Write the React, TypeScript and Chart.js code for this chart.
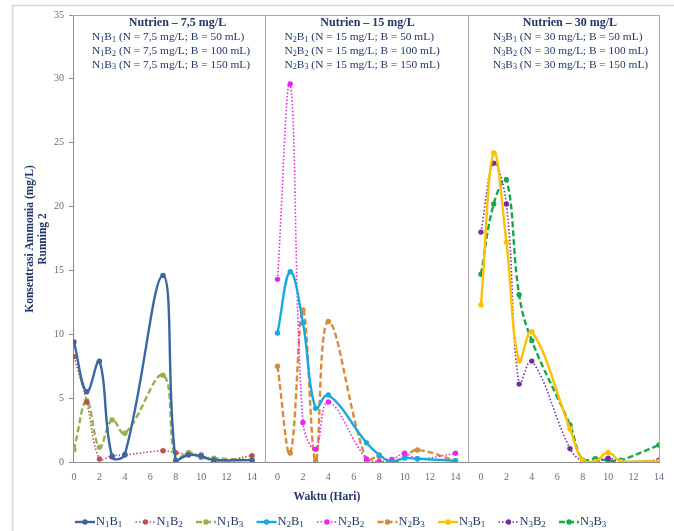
import React, { useEffect, useRef } from 'react';
import { Chart, registerables } from 'chart.js';

Chart.register(...registerables);

// ---------- data ----------
const days = [0, 1, 2, 3, 4, 7, 8, 9, 10, 11, 14];
const panelOffsets = [0, 16, 32];
const tickLocal = [0, 2, 4, 6, 8, 10, 12, 14];
const yTicks = [0, 5, 10, 15, 20, 25, 30, 35];

const n1b1 = [9.4, 5.5, 7.9, 0.4, 0.6, 14.6, 0.1, 0.55, 0.45, 0.16, 0.15];
const n1b2 = [8.25, 4.7, 0.23, 0.47, 0.55, 0.88, 0.73, 0.6, 0.55, 0.02, 0.5];
const n1b3 = [0.95, 4.8, 1.15, 3.3, 2.25, 6.8, 0.12, 0.75, 0.35, 0.29, 0.15];
const n2b1 = [10.1, 14.9, 10.9, 4.2, 5.25, 1.5, 0.55, 0.0, 0.3, 0.25, 0.1];
const n2b2 = [14.3, 29.6, 3.1, 1.0, 4.7, 0.23, 0.05, 0.2, 0.68, 0.25, 0.68];
const n2b3 = [7.5, 0.7, 11.9, 0.1, 11.0, 0.1, 0.45, 0.05, 0.43, 0.94, 0.1];
const n3b1 = [12.3, 24.2, 17.2, 7.9, 10.2, 2.6, 0.1, 0.05, 0.75, 0.05, 0.05];
const n3b2 = [18.0, 23.4, 20.2, 6.1, 7.9, 1.05, 0.05, 0.0, 0.3, 0.05, 0.15];
const n3b3 = [14.7, 20.2, 22.1, 13.1, 9.5, 2.9, 0.15, 0.25, 0.12, 0.15, 1.33];

const seriesLabels = ['N₁B₁', 'N₁B₂', 'N₁B₃', 'N₂B₁', 'N₂B₂', 'N₂B₃', 'N₃B₁', 'N₃B₂', 'N₃B₃'];
const seriesValues = [n1b1, n1b2, n1b3, n2b1, n2b2, n2b3, n3b1, n3b2, n3b3];
const seriesPanel = [0, 0, 0, 1, 1, 1, 2, 2, 2];
const seriesColors = ['#3A66A7', '#C0504D', '#93B34D', '#1AA8E0', '#EE22EE', '#D98A3C', '#FFC000', '#7030A0', '#17A74C'];
const seriesStyle = ['solid', 'dot', 'dash', 'solid', 'dot', 'dash', 'solid', 'dot', 'dash'];

const panelTitles = ['Nutrien – 7,5 mg/L', 'Nutrien – 15 mg/L', 'Nutrien – 30 mg/L'];
const panelLines = [
  ['N₁B₁ (N = 7,5 mg/L; B = 50 mL)', 'N₁B₂ (N = 7,5 mg/L; B = 100 mL)', 'N₁B₃ (N = 7,5 mg/L; B = 150 mL)'],
  ['N₂B₁ (N = 15 mg/L; B = 50 mL)', 'N₂B₂ (N = 15 mg/L; B = 100 mL)', 'N₂B₃ (N = 15 mg/L; B = 150 mL)'],
  ['N₃B₁ (N = 30 mg/L; B = 50 mL)', 'N₃B₂ (N = 30 mg/L; B = 100 mL)', 'N₃B₃ (N = 30 mg/L; B = 150 mL)'],
];
const yTitle = ['Konsentrasi Ammonia (mg/L)', 'Running 2'];
const xTitle = 'Waktu (Hari)';

// ---------- style ----------
const FONT = '"Liberation Serif", "Times New Roman", serif';
const TEXT = '#22366A';
const TICK = '#5F6B8C';
const AXIS = '#8C8C8C';
const DIV = '#A8A8A8';
const SUBS = '₀₁₂₃₄₅₆₇₈₉';

function dashFor(style: string): number[] {
  if (style === 'dash') return [6, 3];
  if (style === 'dot') return [1.5, 2];
  return [];
}
function widthFor(style: string): number {
  if (style === 'dot') return 1.6;
  return 2.4;
}

type Run = { t: string; sub: boolean };
function runsOf(text: string): Run[] {
  const runs: Run[] = [];
  for (const ch of text) {
    const idx = SUBS.indexOf(ch);
    const sub = idx >= 0;
    const c = sub ? String(idx) : ch;
    const last = runs[runs.length - 1];
    if (last && last.sub === sub) last.t += c;
    else runs.push({ t: c, sub });
  }
  return runs;
}
function fontStr(size: number, bold: boolean) {
  return `${bold ? 'bold ' : ''}${size}px ${FONT}`;
}
const SUBK = 0.72;
function richWidth(ctx: CanvasRenderingContext2D, text: string, size: number, bold: boolean) {
  let w = 0;
  for (const r of runsOf(text)) {
    ctx.font = fontStr(r.sub ? size * SUBK : size, bold);
    w += ctx.measureText(r.t).width;
  }
  return w;
}
function drawRich(
  ctx: CanvasRenderingContext2D,
  text: string,
  x: number,
  y: number,
  size: number,
  bold: boolean,
  color: string,
  align: 'left' | 'center' = 'left'
) {
  const total = richWidth(ctx, text, size, bold);
  let cx = align === 'center' ? x - total / 2 : x;
  ctx.save();
  ctx.fillStyle = color;
  ctx.textBaseline = 'middle';
  ctx.textAlign = 'left';
  for (const r of runsOf(text)) {
    const s = r.sub ? size * SUBK : size;
    ctx.font = fontStr(s, bold);
    ctx.fillText(r.t, cx, r.sub ? y + size * 0.2 : y);
    cx += ctx.measureText(r.t).width;
  }
  ctx.restore();
}

const decorPlugin = {
  id: 'decor',
  beforeDatasetsDraw(chart: any) {
    const { ctx, chartArea } = chart;
    const xs = chart.scales.x;
    ctx.save();
    // outer frame
    ctx.strokeStyle = '#D6D6D6';
    ctx.lineWidth = 1.5;
    ctx.strokeRect(12.5, 5.5, 720, 600);
    // plot box top/right
    ctx.strokeStyle = DIV;
    ctx.lineWidth = 1;
    ctx.beginPath();
    ctx.moveTo(chartArea.left, chartArea.top + 0.5);
    ctx.lineTo(chartArea.right + 0.5, chartArea.top + 0.5);
    ctx.lineTo(chartArea.right + 0.5, chartArea.bottom);
    ctx.stroke();
    // panel dividers
    for (let p = 1; p < panelOffsets.length; p++) {
      const gx = Math.round(xs.getPixelForValue(panelOffsets[p] - 1)) + 0.5;
      ctx.beginPath();
      ctx.moveTo(gx, chartArea.top);
      ctx.lineTo(gx, chartArea.bottom);
      ctx.stroke();
    }
    ctx.restore();
  },
  afterDraw(chart: any) {
    const { ctx, chartArea } = chart;
    const xs = chart.scales.x;
    // panel annotations
    const titleDx = [103.5, 90, 89];
    const lineDx = [18, 7, 12];
    for (let p = 0; p < panelOffsets.length; p++) {
      const x0 = xs.getPixelForValue(panelOffsets[p]);
      drawRich(ctx, panelTitles[p], x0 + titleDx[p], chartArea.top + 8, 12, true, TEXT, 'center');
      panelLines[p].forEach((ln, i) => {
        drawRich(ctx, ln, x0 + lineDx[p], chartArea.top + 22.5 + i * 13.7, 11.4, false, TEXT, 'left');
      });
    }
    // y title
    ctx.save();
    ctx.translate(37, 239);
    ctx.rotate(-Math.PI / 2);
    ctx.fillStyle = TEXT;
    ctx.font = fontStr(11.5, true);
    ctx.textAlign = 'center';
    ctx.textBaseline = 'middle';
    ctx.fillText(yTitle[0], 0, -6.5);
    ctx.fillText(yTitle[1], 0, 6.5);
    ctx.restore();
    // x title
    drawRich(ctx, xTitle, 327, 497, 11.5, true, TEXT, 'center');
    // legend
    const ly = 522;
    seriesLabels.forEach((lab, i) => {
      const lx = 75 + i * 60.5;
      ctx.save();
      ctx.strokeStyle = seriesColors[i];
      ctx.lineWidth = widthFor(seriesStyle[i]);
      ctx.setLineDash(dashFor(seriesStyle[i]));
      ctx.beginPath();
      ctx.moveTo(lx, ly);
      ctx.lineTo(lx + 20, ly);
      ctx.stroke();
      ctx.setLineDash([]);
      ctx.fillStyle = seriesColors[i];
      ctx.beginPath();
      ctx.arc(lx + 10, ly, 2.7, 0, Math.PI * 2);
      ctx.fill();
      ctx.restore();
      drawRich(ctx, lab, lx + 21, ly, 12.5, false, TEXT, 'left');
    });
  },
};

export default function App() {
  const ref = useRef<HTMLCanvasElement | null>(null);
  useEffect(() => {
    document.body.style.margin = '0';
    const canvas = ref.current;
    if (!canvas) return;
    const xTickValues: number[] = [];
    panelOffsets.forEach((o) => tickLocal.forEach((t) => xTickValues.push(o + t)));
    const datasets = seriesLabels.map((lab, i) => {
      const off = panelOffsets[seriesPanel[i]];
      return {
        label: lab,
        data: days.map((d, k) => ({ x: d + off, y: seriesValues[i][k] })),
        borderColor: seriesColors[i],
        backgroundColor: seriesColors[i],
        borderWidth: widthFor(seriesStyle[i]),
        borderDash: dashFor(seriesStyle[i]),
        pointRadius: 2.7,
        pointBorderWidth: 0,
        pointBackgroundColor: seriesColors[i],
        tension: 0.4,
        fill: false,
      };
    });
    const chart = new Chart(canvas, {
      type: 'line',
      data: { datasets },
      options: {
        responsive: false,
        animation: false,
        events: [],
        layout: { padding: { left: 0, right: 15, top: 15, bottom: 0 } },
        plugins: { legend: { display: false }, tooltip: { enabled: false }, title: { display: false } },
        scales: {
          x: {
            type: 'linear',
            min: -0.08,
            max: 46,
            grid: { display: false, drawTicks: false },
            border: { display: true, color: AXIS, width: 1 },
            afterBuildTicks: (s: any) => {
              s.ticks = xTickValues.map((v) => ({ value: v }));
            },
            afterFit: (s: any) => {
              s.height = 69;
            },
            ticks: {
              autoSkip: false,
              maxRotation: 0,
              minRotation: 0,
              padding: 9,
              color: TICK,
              font: { family: FONT, size: 10 },
              callback: (v: any) => {
                const val = Number(v);
                let off = 0;
                panelOffsets.forEach((o) => {
                  if (val >= o) off = o;
                });
                return String(val - off);
              },
            },
          },
          y: {
            type: 'linear',
            min: 0,
            max: 35,
            afterBuildTicks: (s: any) => {
              s.ticks = yTicks.map((v) => ({ value: v }));
            },
            afterFit: (s: any) => {
              s.width = 73;
            },
            grid: { display: true, drawOnChartArea: false, tickLength: 4, color: AXIS },
            border: { display: true, color: AXIS, width: 1 },
            ticks: { padding: 5, color: TICK, font: { family: FONT, size: 10 } },
          },
        },
      },
      plugins: [decorPlugin],
    } as any);
    return () => chart.destroy();
  }, []);
  return (
    <div style={{ width: 674, height: 531, background: '#fff' }}>
      <canvas ref={ref} width={674} height={531} style={{ display: 'block' }} />
    </div>
  );
}
